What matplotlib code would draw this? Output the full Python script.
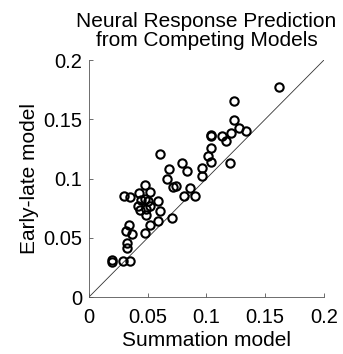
# Neural response prediction: summation vs early-late model

import matplotlib
matplotlib.use("Agg")
import matplotlib.pyplot as plt
import numpy as np

plt.rcParams["font.family"] = ["Liberation Sans", "DejaVu Sans"]

summation = np.array([
	0.1615, 0.1238, 0.1230, 0.1280, 0.1340, 0.1210, 0.1136, 0.1170,
	0.1037, 0.1037, 0.1037, 0.1017, 0.1040, 0.1200, 0.0966, 0.0966,
	0.0603, 0.0683, 0.0793, 0.0833, 0.0660, 0.0717, 0.0740, 0.0858,
	0.0805, 0.0898, 0.0705, 0.0473, 0.0520, 0.0428, 0.0300, 0.0351,
	0.0473, 0.0442, 0.0501, 0.0584, 0.0416, 0.0520, 0.0487, 0.0431,
	0.0603, 0.0482, 0.0584, 0.0520, 0.0343, 0.0317, 0.0368, 0.0473,
	0.0320, 0.0320, 0.0198, 0.0198, 0.0289, 0.0351])
early_late = np.array([
	0.1770, 0.1650, 0.1490, 0.1430, 0.1400, 0.1380, 0.1360, 0.1320,
	0.1370, 0.1360, 0.1260, 0.1190, 0.1140, 0.1130, 0.1090, 0.1020,
	0.1210, 0.1080, 0.1130, 0.1060, 0.0997, 0.0930, 0.0940, 0.0920,
	0.0856, 0.0856, 0.0665, 0.0946, 0.0885, 0.0876, 0.0856, 0.0845,
	0.0828, 0.0817, 0.0814, 0.0806, 0.0772, 0.0766, 0.0744, 0.0732,
	0.0724, 0.0696, 0.0645, 0.0606, 0.0606, 0.0560, 0.0535, 0.0544,
	0.0459, 0.0411, 0.0315, 0.0296, 0.0301, 0.0301])

ticks = [0, 0.05, 0.1, 0.15, 0.2]
tick_labels = ["0", "0.05", "0.1", "0.15", "0.2"]

fig = plt.figure(figsize=(3.43, 3.54), dpi=100)
ax = fig.add_axes([0.2595, 0.161, 0.685, 0.6695])

ax.plot([0, 0.2], [0, 0.2], color="#333333", linewidth=0.6)
ax.plot(summation, early_late, linestyle="none", marker="o", markersize=6,
		markerfacecolor="none", markeredgecolor="black", markeredgewidth=1.5)

ax.set_xlim(0, 0.2)
ax.set_ylim(0, 0.2)
ax.set_xticks(ticks)
ax.set_xticklabels(tick_labels)
ax.set_yticks(ticks)
ax.set_yticklabels(tick_labels)
ax.tick_params(direction="in", length=3, width=0.6, color="#555555",
		labelsize=14.5, pad=5)
ax.tick_params(axis="x", pad=8)
for side in ["top", "right"]:
	ax.spines[side].set_visible(False)
for side in ["left", "bottom"]:
	ax.spines[side].set_color("#555555")
	ax.spines[side].set_linewidth(0.6)

ax.set_xlabel("Summation model", fontsize=15, labelpad=3)
ax.set_ylabel("Early-late model", fontsize=15, labelpad=3)
ax.set_title("Neural Response Prediction\nfrom Competing Models", fontsize=15,
		linespacing=1.0, pad=10)

fig.savefig("out.png", dpi=100)
